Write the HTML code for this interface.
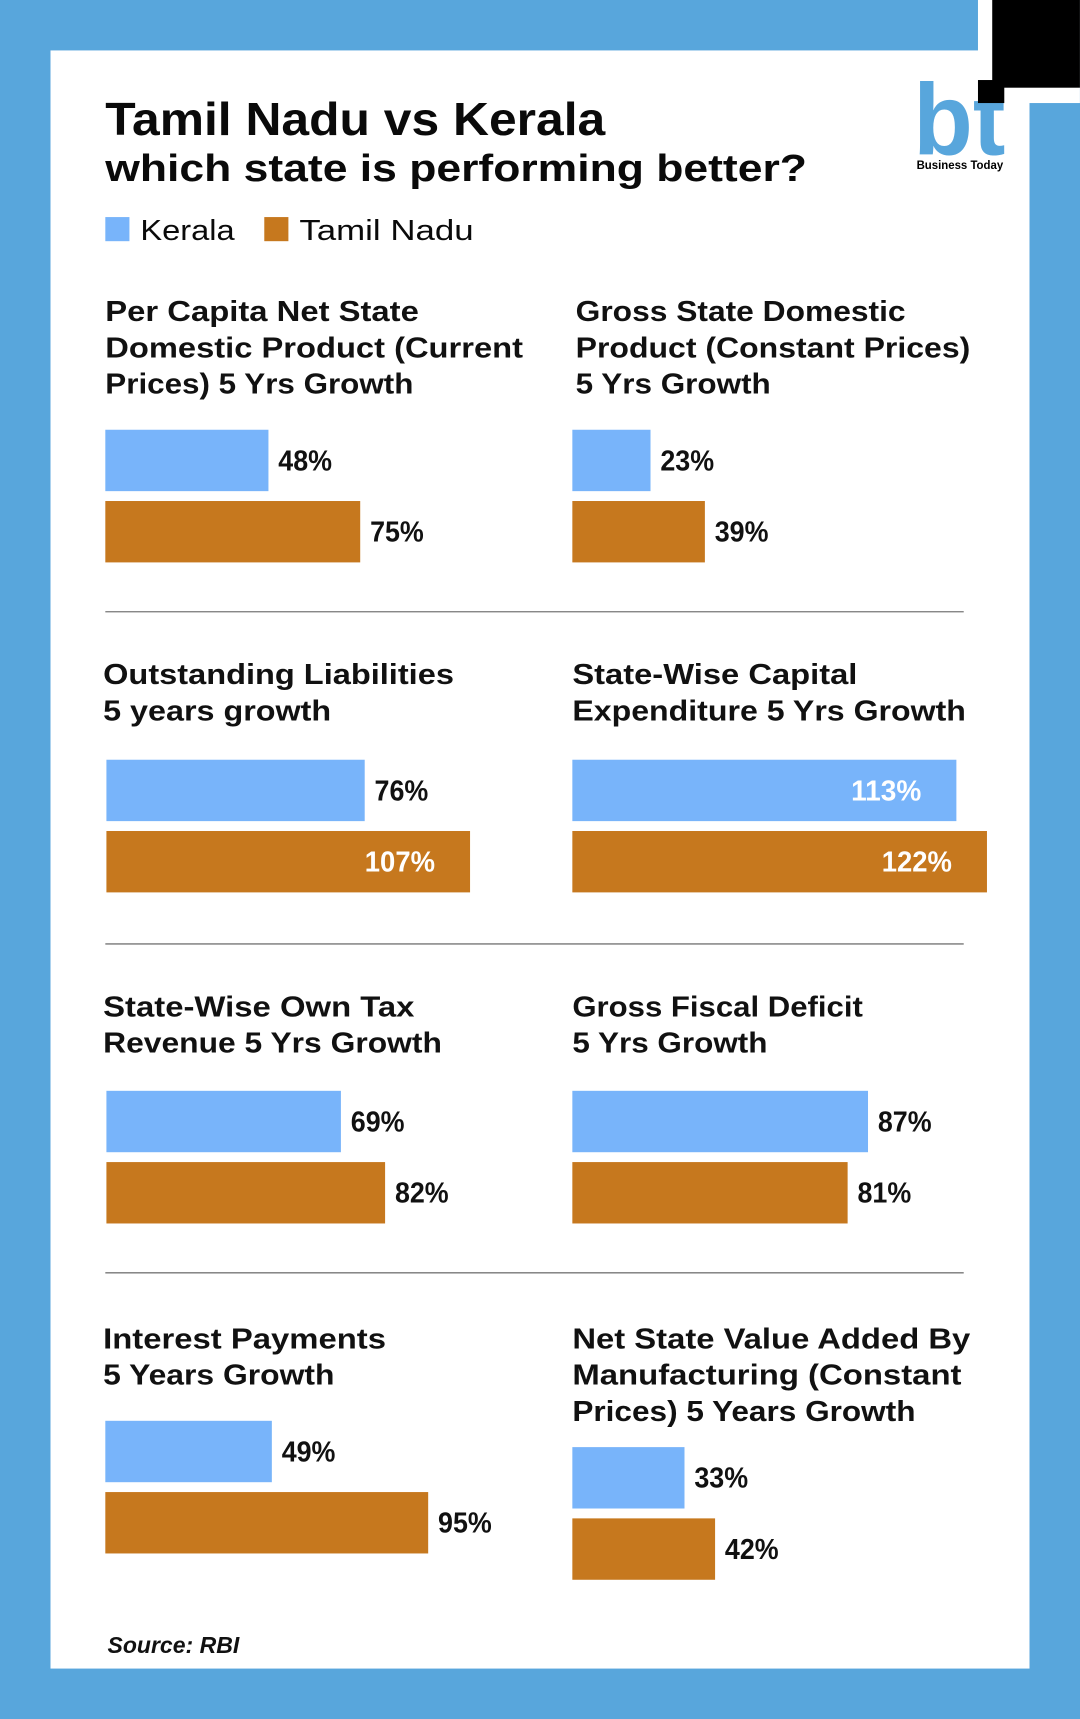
<!DOCTYPE html>
<html><head><meta charset="utf-8"><style>
html,body{margin:0;padding:0;background:#58a6dc;}
svg{display:block;font-family:"Liberation Sans",sans-serif;}
</style></head><body>
<svg id="chart" width="1080" height="1719" viewBox="0 0 985 1568" xmlns="http://www.w3.org/2000/svg">
<rect x="0" y="0" width="985" height="1568" fill="#58a6dc"/>
<rect x="46" y="46" width="893" height="1476" fill="#ffffff"/>
<rect x="892" y="0" width="93" height="94" fill="#ffffff"/>
<rect x="905" y="0" width="80" height="80" fill="#000000"/>
<g>
<text x="833" y="141" font-size="92" font-weight="bold" fill="#58a6dc" textLength="84" lengthAdjust="spacingAndGlyphs">bt</text>
<rect x="892" y="73" width="24" height="21" fill="#000"/>
<text x="836" y="154" font-size="11" font-weight="bold" fill="#000" textLength="79" lengthAdjust="spacingAndGlyphs">Business Today</text>
</g>
<text x="96" y="123" font-size="42" font-weight="bold" fill="#0a0a0a" textLength="456" lengthAdjust="spacingAndGlyphs">Tamil Nadu vs Kerala</text>
<text x="96" y="165" font-size="35" font-weight="bold" fill="#0a0a0a" textLength="640" lengthAdjust="spacingAndGlyphs">which state is performing better?</text>
<g>
<rect x="96" y="198" width="22" height="22" fill="#78b4fa"/>
<text x="128" y="219" font-size="26" fill="#0a0a0a" textLength="86" lengthAdjust="spacingAndGlyphs">Kerala</text>
<rect x="241" y="198" width="22" height="22" fill="#c6781e"/>
<text x="273" y="219" font-size="26" fill="#0a0a0a" textLength="159" lengthAdjust="spacingAndGlyphs">Tamil Nadu</text>
</g>
<line x1="96" y1="558" x2="879" y2="558" stroke="#777" stroke-width="1.2"/>
<line x1="96" y1="861" x2="879" y2="861" stroke="#777" stroke-width="1.2"/>
<line x1="96" y1="1161" x2="879" y2="1161" stroke="#777" stroke-width="1.2"/>
<text x="98" y="1508" font-size="21" font-style="italic" font-weight="bold" fill="#111">Source: RBI</text>
<g id="panels"></g>
</svg>
<script>
const categories = ["Per Capita NSDP", "GSDP Constant", "Outstanding Liabilities", "Capital Expenditure", "Own Tax Revenue", "Gross Fiscal Deficit", "Interest Payments", "NSVA Manufacturing"];
const keralaValues = [48, 23, 76, 113, 69, 87, 49, 33];
const tamilNaduValues = [75, 39, 107, 122, 82, 81, 95, 42];
const titleLines = [
  ["Per Capita Net State", "Domestic Product (Current", "Prices) 5 Yrs Growth"],
  ["Gross State Domestic", "Product (Constant Prices)", "5 Yrs Growth"],
  ["Outstanding Liabilities", "5 years growth"],
  ["State-Wise Capital", "Expenditure 5 Yrs Growth"],
  ["State-Wise Own Tax", "Revenue 5 Yrs Growth"],
  ["Gross Fiscal Deficit", "5 Yrs Growth"],
  ["Interest Payments", "5 Years Growth"],
  ["Net State Value Added By", "Manufacturing (Constant", "Prices) 5 Years Growth"]
];
const titleWidths = [
  [286, 381, 281], [301, 360, 178], [320, 208], [260, 359],
  [284, 309], [265, 178], [258, 211], [363, 355, 313]
];
// layout (not data)
const layout = [
  {tx:96, ty:293, bx:96, by:392},
  {tx:525, ty:293, bx:522, by:392},
  {tx:94, ty:624, bx:97, by:693},
  {tx:522, ty:624, bx:522, by:693},
  {tx:94, ty:927, bx:97, by:995},
  {tx:522, ty:927, bx:522, by:995},
  {tx:94, ty:1230, bx:96, by:1296},
  {tx:522, ty:1230, bx:522, by:1320}
];
const PX_PER_PCT = 3.1;
function xScale(v){ return v * PX_PER_PCT; }
const NS = "http://www.w3.org/2000/svg";
const root = document.getElementById("panels");
function mk(tag, attrs){ const e=document.createElementNS(NS,tag); for(const k in attrs) e.setAttribute(k, attrs[k]); return e; }
categories.forEach((cat, i) => {
  const L = layout[i];
  const g = mk("g", {});
  
  
  titleLines[i].forEach((line, j) => {
    const t = mk("text", {x:L.tx, y:L.ty + j*33, "font-size":26, "font-weight":"bold", fill:"#111", textLength:titleWidths[i][j], lengthAdjust:"spacingAndGlyphs"});
    
    
    t.textContent = line;
    g.appendChild(t);
  });
  const series = [[keralaValues[i], "#78b4fa", "kerala"], [tamilNaduValues[i], "#c6781e", "tamil-nadu"]];
  series.forEach((s, k) => {
    const y = L.by + k*65;
    const w = xScale(s[0]);
    const r = mk("rect", {x:L.bx, y:y, width:w, height:56, fill:s[1]});
    
    
    g.appendChild(r);
    const inside = s[0] > 100;
    const label = s[0] + "%";
    const lw = label.length * 15 + 4;
    const t = mk("text", {x: inside ? L.bx + w - 32 : L.bx + w + 9, y: y + 37, "font-size":26, "font-weight":"bold", fill: inside ? "#ffffff" : "#111", "text-anchor": inside ? "end" : "start", textLength: lw, lengthAdjust:"spacingAndGlyphs"});
    
    
    t.textContent = label;
    g.appendChild(t);
  });
  root.appendChild(g);
});
</script>
</body></html>
